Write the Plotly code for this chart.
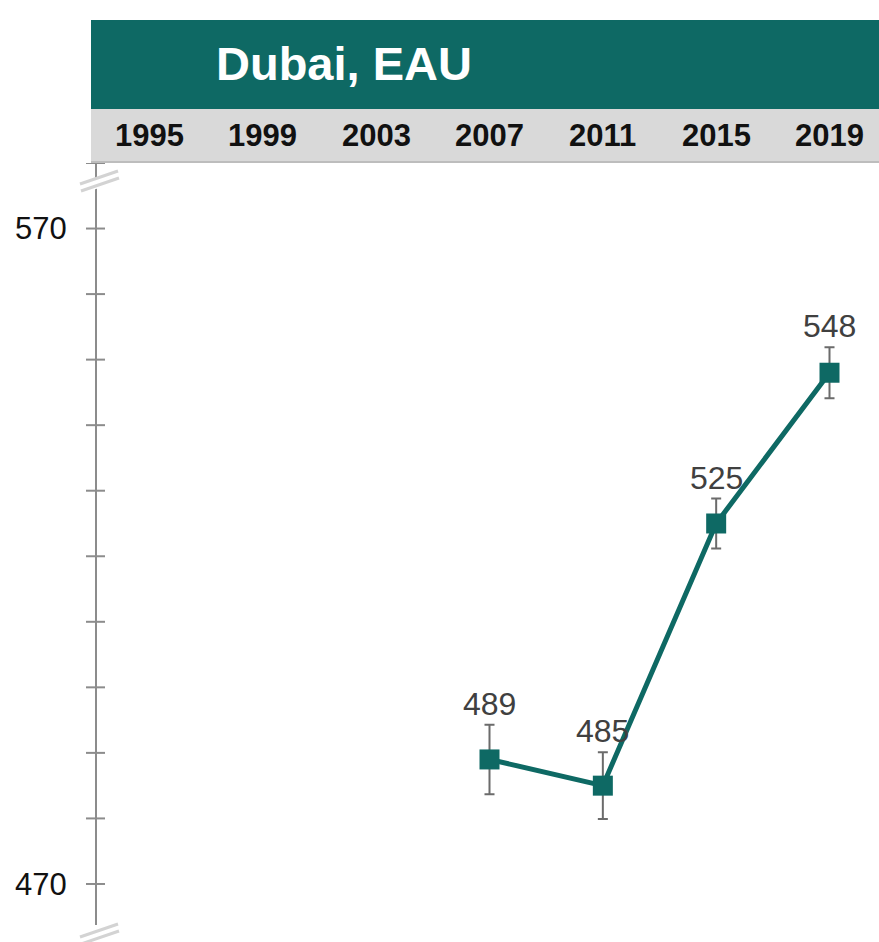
import plotly.graph_objects as go

# Scores for Dubai, EAU by assessment year
years = [2007, 2011, 2015, 2019]
scores = [489, 485, 525, 548]
errors = [5.3, 5.1, 3.8, 3.9]
year_ticks = [1995, 1999, 2003, 2007, 2011, 2015, 2019]
y_labels = [470, 570]
title = "Dubai, EAU"

W, H = 879, 942
TEAL = "#0e6964"
AXIS_GREY = "#8c8c8c"
FONT = "Arial, Liberation Sans, sans-serif"


def px(x):
    return x / W


def py(y):
    return 1 - y / H


fig = go.Figure()

fig.add_trace(go.Scatter(
    x=years, y=scores,
    mode="lines+markers",
    line=dict(color=TEAL, width=5),
    marker=dict(symbol="square", size=20, color=TEAL),
    error_y=dict(type="data", array=errors, color="#6b6b6b", thickness=2, width=5),
    hoverinfo="skip",
    showlegend=False,
))

annotations = [
    dict(x=px(214), y=py(64), xref="paper", yref="paper", text=f"<b>{title}</b>",
         showarrow=False, xanchor="left", yanchor="middle",
         font=dict(family=FONT, size=47, color="white")),
]
for yr in year_ticks:
    annotations.append(dict(x=yr, y=py(136), xref="x", yref="paper", text=f"<b>{yr}</b>",
                            showarrow=False, xanchor="center", yanchor="middle",
                            font=dict(family=FONT, size=31, color="#111111")))

# value labels above the error bars
for x, v, e in zip(years, scores, errors):
    annotations.append(dict(
        x=x, y=v + e, xref="x", yref="y", text=str(v), showarrow=False,
        xanchor="center", yanchor="bottom", yshift=1,
        font=dict(family=FONT, size=32, color="#404040"),
    ))

shapes = []
# header band and year strip
shapes.append(dict(type="rect", xref="paper", yref="paper", x0=px(91), x1=1.0,
                   y0=py(109), y1=py(20), fillcolor=TEAL, line=dict(width=0), layer="below"))
shapes.append(dict(type="rect", xref="paper", yref="paper", x0=px(91), x1=1.0,
                   y0=py(161), y1=py(109), fillcolor="#d9d9d9", line=dict(width=0), layer="below"))
shapes.append(dict(type="line", xref="paper", yref="paper", x0=px(91), x1=1.0,
                   y0=py(162), y1=py(162), line=dict(color="#bdbdbd", width=2)))

# tick marks crossing the axis, every 10 points
for v in range(470, 581, 10):
    shapes.append(dict(type="line", xref="paper", yref="y", x0=px(86), x1=px(105),
                       y0=v, y1=v, line=dict(color=AXIS_GREY, width=2)))


def break_mark(yc):
    # white gap plus two slanted strokes marking a broken axis
    out = []
    out.append(dict(type="path", xref="paper", yref="paper",
                    path=f"M {px(78)} {py(yc + 8)} L {px(120)} {py(yc - 8)} "
                         f"L {px(120)} {py(yc + 4)} L {px(78)} {py(yc + 18)} Z",
                    fillcolor="white", line=dict(width=0)))
    out.append(dict(type="line", xref="paper", yref="paper",
                    x0=px(80), y0=py(yc + 7), x1=px(118), y1=py(yc - 6),
                    line=dict(color="#d3d3d3", width=3)))
    out.append(dict(type="line", xref="paper", yref="paper",
                    x0=px(81), y0=py(yc + 14), x1=px(119), y1=py(yc + 1),
                    line=dict(color="#d3d3d3", width=3)))
    return out


shapes += break_mark(177)
shapes += break_mark(930)

fig.update_layout(
    width=W, height=H,
    margin=dict(l=0, r=0, t=0, b=0),
    paper_bgcolor="white", plot_bgcolor="white",
    xaxis=dict(domain=[px(91), 1.0], range=[1992.935, 2020.747],
               showgrid=False, zeroline=False, showticklabels=False, ticks=""),
    yaxis=dict(domain=[py(925), py(163)], range=[463.74, 580],
               anchor="free", position=px(96),
               showline=True, linecolor=AXIS_GREY, linewidth=2,
               showgrid=False, zeroline=False, ticks="",
               tickvals=y_labels, ticktext=[str(v) for v in y_labels],
               ticklabelstandoff=22,
               tickfont=dict(family=FONT, size=31, color="#111111")),
    shapes=shapes,
    annotations=annotations,
)

fig.write_html("out.html")
